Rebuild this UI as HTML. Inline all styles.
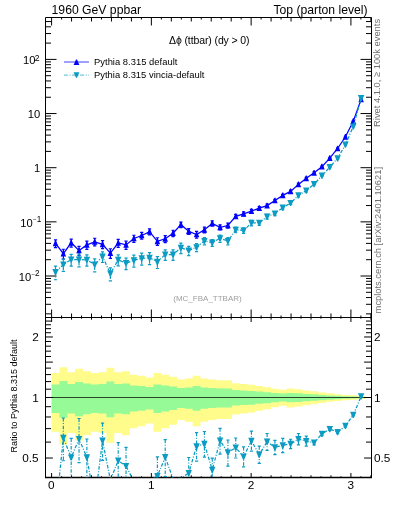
<!DOCTYPE html><html><head><meta charset="utf-8"><style>html,body{margin:0;padding:0;background:#fff;overflow:hidden;}svg{display:block;will-change:transform;}text{font-family:"Liberation Sans",sans-serif;}</style></head><body>
<svg width="393" height="512" viewBox="0 0 393 512">
<defs><clipPath id="cu"><rect x="45.5" y="17.5" width="326" height="300"/></clipPath><clipPath id="cr"><rect x="45.5" y="317.5" width="326" height="160"/></clipPath></defs>
<g clip-path="url(#cr)">
<polygon points="51.60,373.01 59.44,373.01 59.44,367.13 67.27,367.13 67.27,372.31 75.11,372.31 75.11,368.84 82.94,368.84 82.94,371.26 90.78,371.26 90.78,373.01 98.62,373.01 98.62,372.31 106.45,372.31 106.45,367.81 114.29,367.81 114.29,372.31 122.12,372.31 122.12,371.26 129.96,371.26 129.96,374.77 137.80,374.77 137.80,375.84 145.63,375.84 145.63,377.45 153.47,377.45 153.47,373.01 161.30,373.01 161.30,374.77 169.14,374.77 169.14,376.73 176.97,376.73 176.97,379.61 184.81,379.61 184.81,378.53 192.65,378.53 192.65,375.84 200.48,375.84 200.48,378.53 208.32,378.53 208.32,379.61 216.15,379.61 216.15,380.34 223.99,380.34 223.99,380.34 231.83,380.34 231.83,383.28 239.66,383.28 239.66,384.02 247.50,384.02 247.50,384.76 255.33,384.76 255.33,386.07 263.17,386.07 263.17,387.20 271.01,387.20 271.01,388.72 278.84,388.72 278.84,389.87 286.68,389.87 286.68,388.53 294.51,388.53 294.51,389.29 302.35,389.29 302.35,390.44 310.19,390.44 310.19,391.21 318.02,391.21 318.02,392.38 325.86,392.38 325.86,393.35 333.69,393.35 333.69,394.13 341.53,394.13 341.53,394.92 349.36,394.92 349.36,395.31 357.20,395.31 357.20,396.11 365.04,396.11 365.04,398.92 357.20,398.92 357.20,399.74 349.36,399.74 349.36,400.16 341.53,400.16 341.53,401.00 333.69,401.00 333.69,401.86 325.86,401.86 325.86,402.94 318.02,402.94 318.02,404.27 310.19,404.27 310.19,405.18 302.35,405.18 302.35,406.56 294.51,406.56 294.51,407.50 286.68,407.50 286.68,405.87 278.84,405.87 278.84,407.26 271.01,407.26 271.01,409.18 263.17,409.18 263.17,410.65 255.33,410.65 255.33,412.42 247.50,412.42 247.50,413.45 239.66,413.45 239.66,414.50 231.83,414.50 231.83,418.88 223.99,418.88 223.99,418.88 216.15,418.88 216.15,420.02 208.32,420.02 208.32,421.77 200.48,421.77 200.48,426.37 192.65,426.37 192.65,421.77 184.81,421.77 184.81,420.02 176.97,420.02 176.97,424.80 169.14,424.80 169.14,428.31 161.30,428.31 161.30,431.66 153.47,431.66 153.47,423.57 145.63,423.57 145.63,426.37 137.80,426.37 137.80,428.31 129.96,428.31 129.96,435.18 122.12,435.18 122.12,433.05 114.29,433.05 114.29,442.83 106.45,442.83 106.45,433.05 98.62,433.05 98.62,431.66 90.78,431.66 90.78,435.18 82.94,435.18 82.94,440.45 75.11,440.45 75.11,433.05 67.27,433.05 67.27,444.47 59.44,444.47 59.44,431.66 51.60,431.66" fill="#fffc8c" stroke="none"/>
<polygon points="51.60,384.40 59.44,384.40 59.44,381.00 67.27,381.00 67.27,384.00 75.11,384.00 75.11,382.00 82.94,382.00 82.94,383.40 90.78,383.40 90.78,384.40 98.62,384.40 98.62,384.00 106.45,384.00 106.45,381.40 114.29,381.40 114.29,384.00 122.12,384.00 122.12,383.40 129.96,383.40 129.96,385.40 137.80,385.40 137.80,386.00 145.63,386.00 145.63,386.90 153.47,386.90 153.47,384.40 161.30,384.40 161.30,385.40 169.14,385.40 169.14,386.50 176.97,386.50 176.97,388.10 184.81,388.10 184.81,387.50 192.65,387.50 192.65,386.00 200.48,386.00 200.48,387.50 208.32,387.50 208.32,388.10 216.15,388.10 216.15,388.50 223.99,388.50 223.99,388.50 231.83,388.50 231.83,390.10 239.66,390.10 239.66,390.50 247.50,390.50 247.50,390.90 255.33,390.90 255.33,391.60 263.17,391.60 263.17,392.20 271.01,392.20 271.01,393.00 278.84,393.00 278.84,393.60 286.68,393.60 286.68,392.90 294.51,392.90 294.51,393.30 302.35,393.30 302.35,393.90 310.19,393.90 310.19,394.30 318.02,394.30 318.02,394.90 325.86,394.90 325.86,395.40 333.69,395.40 333.69,395.80 341.53,395.80 341.53,396.20 349.36,396.20 349.36,396.40 357.20,396.40 357.20,396.80 365.04,396.80 365.04,398.21 357.20,398.21 357.20,398.61 349.36,398.61 349.36,398.82 341.53,398.82 341.53,399.23 333.69,399.23 333.69,399.65 325.86,399.65 325.86,400.18 318.02,400.18 318.02,400.82 310.19,400.82 310.19,401.25 302.35,401.25 302.35,401.91 294.51,401.91 294.51,402.36 286.68,402.36 286.68,401.58 278.84,401.58 278.84,402.24 271.01,402.24 271.01,403.14 263.17,403.14 263.17,403.83 255.33,403.83 255.33,404.64 247.50,404.64 247.50,405.11 239.66,405.11 239.66,405.59 231.83,405.59 231.83,407.54 223.99,407.54 223.99,407.54 216.15,407.54 216.15,408.04 208.32,408.04 208.32,408.80 200.48,408.80 200.48,410.75 192.65,410.75 192.65,408.80 184.81,408.80 184.81,408.04 176.97,408.04 176.97,410.09 169.14,410.09 169.14,411.55 161.30,411.55 161.30,412.92 153.47,412.92 153.47,409.57 145.63,409.57 145.63,410.75 137.80,410.75 137.80,411.55 129.96,411.55 129.96,414.32 122.12,414.32 122.12,413.48 114.29,413.48 114.29,417.26 106.45,417.26 106.45,413.48 98.62,413.48 98.62,412.92 90.78,412.92 90.78,414.32 82.94,414.32 82.94,416.36 75.11,416.36 75.11,413.48 67.27,413.48 67.27,417.86 59.44,417.86 59.44,412.92 51.60,412.92" fill="#96fa96" stroke="none"/>
</g>
<g fill="none" stroke="#000" stroke-width="1">
<path d="M45.5 17.5H371.5V477.5H45.5Z M45.5 317.5H371.5"/>
</g>
<path d="M45.0 477.5H372.0" stroke="#000" stroke-width="1.5"/>
<path d="M51.60 317.50L51.60 309.50M51.60 17.50L51.60 25.50M51.60 317.50L51.60 322.00M51.60 477.50L51.60 473.00M61.58 317.50L61.58 315.50M61.58 17.50L61.58 19.50M61.58 317.50L61.58 318.70M61.58 477.50L61.58 476.30M71.55 317.50L71.55 313.50M71.55 17.50L71.55 21.50M71.55 317.50L71.55 319.70M71.55 477.50L71.55 475.30M81.53 317.50L81.53 315.50M81.53 17.50L81.53 19.50M81.53 317.50L81.53 318.70M81.53 477.50L81.53 476.30M91.51 317.50L91.51 313.50M91.51 17.50L91.51 21.50M91.51 317.50L91.51 319.70M91.51 477.50L91.51 475.30M101.48 317.50L101.48 315.50M101.48 17.50L101.48 19.50M101.48 317.50L101.48 318.70M101.48 477.50L101.48 476.30M111.46 317.50L111.46 313.50M111.46 17.50L111.46 21.50M111.46 317.50L111.46 319.70M111.46 477.50L111.46 475.30M121.44 317.50L121.44 315.50M121.44 17.50L121.44 19.50M121.44 317.50L121.44 318.70M121.44 477.50L121.44 476.30M131.42 317.50L131.42 313.50M131.42 17.50L131.42 21.50M131.42 317.50L131.42 319.70M131.42 477.50L131.42 475.30M141.39 317.50L141.39 315.50M141.39 17.50L141.39 19.50M141.39 317.50L141.39 318.70M141.39 477.50L141.39 476.30M151.37 317.50L151.37 309.50M151.37 17.50L151.37 25.50M151.37 317.50L151.37 322.00M151.37 477.50L151.37 473.00M161.35 317.50L161.35 315.50M161.35 17.50L161.35 19.50M161.35 317.50L161.35 318.70M161.35 477.50L161.35 476.30M171.32 317.50L171.32 313.50M171.32 17.50L171.32 21.50M171.32 317.50L171.32 319.70M171.32 477.50L171.32 475.30M181.30 317.50L181.30 315.50M181.30 17.50L181.30 19.50M181.30 317.50L181.30 318.70M181.30 477.50L181.30 476.30M191.28 317.50L191.28 313.50M191.28 17.50L191.28 21.50M191.28 317.50L191.28 319.70M191.28 477.50L191.28 475.30M201.25 317.50L201.25 315.50M201.25 17.50L201.25 19.50M201.25 317.50L201.25 318.70M201.25 477.50L201.25 476.30M211.23 317.50L211.23 313.50M211.23 17.50L211.23 21.50M211.23 317.50L211.23 319.70M211.23 477.50L211.23 475.30M221.21 317.50L221.21 315.50M221.21 17.50L221.21 19.50M221.21 317.50L221.21 318.70M221.21 477.50L221.21 476.30M231.19 317.50L231.19 313.50M231.19 17.50L231.19 21.50M231.19 317.50L231.19 319.70M231.19 477.50L231.19 475.30M241.16 317.50L241.16 315.50M241.16 17.50L241.16 19.50M241.16 317.50L241.16 318.70M241.16 477.50L241.16 476.30M251.14 317.50L251.14 309.50M251.14 17.50L251.14 25.50M251.14 317.50L251.14 322.00M251.14 477.50L251.14 473.00M261.12 317.50L261.12 315.50M261.12 17.50L261.12 19.50M261.12 317.50L261.12 318.70M261.12 477.50L261.12 476.30M271.09 317.50L271.09 313.50M271.09 17.50L271.09 21.50M271.09 317.50L271.09 319.70M271.09 477.50L271.09 475.30M281.07 317.50L281.07 315.50M281.07 17.50L281.07 19.50M281.07 317.50L281.07 318.70M281.07 477.50L281.07 476.30M291.05 317.50L291.05 313.50M291.05 17.50L291.05 21.50M291.05 317.50L291.05 319.70M291.05 477.50L291.05 475.30M301.02 317.50L301.02 315.50M301.02 17.50L301.02 19.50M301.02 317.50L301.02 318.70M301.02 477.50L301.02 476.30M311.00 317.50L311.00 313.50M311.00 17.50L311.00 21.50M311.00 317.50L311.00 319.70M311.00 477.50L311.00 475.30M320.98 317.50L320.98 315.50M320.98 17.50L320.98 19.50M320.98 317.50L320.98 318.70M320.98 477.50L320.98 476.30M330.96 317.50L330.96 313.50M330.96 17.50L330.96 21.50M330.96 317.50L330.96 319.70M330.96 477.50L330.96 475.30M340.93 317.50L340.93 315.50M340.93 17.50L340.93 19.50M340.93 317.50L340.93 318.70M340.93 477.50L340.93 476.30M350.91 317.50L350.91 309.50M350.91 17.50L350.91 25.50M350.91 317.50L350.91 322.00M350.91 477.50L350.91 473.00M360.89 317.50L360.89 315.50M360.89 17.50L360.89 19.50M360.89 317.50L360.89 318.70M360.89 477.50L360.89 476.30M370.86 317.50L370.86 313.50M370.86 17.50L370.86 21.50M370.86 317.50L370.86 319.70M370.86 477.50L370.86 475.30M45.50 313.85L51.00 313.85M371.50 313.85L366.00 313.85M45.50 304.31L51.00 304.31M371.50 304.31L366.00 304.31M45.50 297.55L51.00 297.55M371.50 297.55L366.00 297.55M45.50 292.30L51.00 292.30M371.50 292.30L366.00 292.30M45.50 288.01L51.00 288.01M371.50 288.01L366.00 288.01M45.50 284.39L51.00 284.39M371.50 284.39L366.00 284.39M45.50 281.25L51.00 281.25M371.50 281.25L366.00 281.25M45.50 278.48L51.00 278.48M371.50 278.48L366.00 278.48M45.50 276.00L56.50 276.00M371.50 276.00L360.50 276.00M45.50 259.70L51.00 259.70M371.50 259.70L366.00 259.70M45.50 250.16L51.00 250.16M371.50 250.16L366.00 250.16M45.50 243.40L51.00 243.40M371.50 243.40L366.00 243.40M45.50 238.15L51.00 238.15M371.50 238.15L366.00 238.15M45.50 233.86L51.00 233.86M371.50 233.86L366.00 233.86M45.50 230.24L51.00 230.24M371.50 230.24L366.00 230.24M45.50 227.10L51.00 227.10M371.50 227.10L366.00 227.10M45.50 224.33L51.00 224.33M371.50 224.33L366.00 224.33M45.50 221.85L56.50 221.85M371.50 221.85L360.50 221.85M45.50 205.55L51.00 205.55M371.50 205.55L366.00 205.55M45.50 196.01L51.00 196.01M371.50 196.01L366.00 196.01M45.50 189.25L51.00 189.25M371.50 189.25L366.00 189.25M45.50 184.00L51.00 184.00M371.50 184.00L366.00 184.00M45.50 179.71L51.00 179.71M371.50 179.71L366.00 179.71M45.50 176.09L51.00 176.09M371.50 176.09L366.00 176.09M45.50 172.95L51.00 172.95M371.50 172.95L366.00 172.95M45.50 170.18L51.00 170.18M371.50 170.18L366.00 170.18M45.50 167.70L56.50 167.70M371.50 167.70L360.50 167.70M45.50 151.40L51.00 151.40M371.50 151.40L366.00 151.40M45.50 141.86L51.00 141.86M371.50 141.86L366.00 141.86M45.50 135.10L51.00 135.10M371.50 135.10L366.00 135.10M45.50 129.85L51.00 129.85M371.50 129.85L366.00 129.85M45.50 125.56L51.00 125.56M371.50 125.56L366.00 125.56M45.50 121.94L51.00 121.94M371.50 121.94L366.00 121.94M45.50 118.80L51.00 118.80M371.50 118.80L366.00 118.80M45.50 116.03L51.00 116.03M371.50 116.03L366.00 116.03M45.50 113.55L56.50 113.55M371.50 113.55L360.50 113.55M45.50 97.25L51.00 97.25M371.50 97.25L366.00 97.25M45.50 87.71L51.00 87.71M371.50 87.71L366.00 87.71M45.50 80.95L51.00 80.95M371.50 80.95L366.00 80.95M45.50 75.70L51.00 75.70M371.50 75.70L366.00 75.70M45.50 71.41L51.00 71.41M371.50 71.41L366.00 71.41M45.50 67.79L51.00 67.79M371.50 67.79L366.00 67.79M45.50 64.65L51.00 64.65M371.50 64.65L366.00 64.65M45.50 61.88L51.00 61.88M371.50 61.88L366.00 61.88M45.50 59.40L56.50 59.40M371.50 59.40L360.50 59.40M45.50 43.10L51.00 43.10M371.50 43.10L366.00 43.10M45.50 33.56L51.00 33.56M371.50 33.56L366.00 33.56M45.50 26.80L51.00 26.80M371.50 26.80L366.00 26.80M45.50 21.55L51.00 21.55M371.50 21.55L366.00 21.55M45.50 477.50L51.00 477.50M371.50 477.50L366.00 477.50M45.50 458.02L52.90 458.02M371.50 458.02L364.10 458.02M45.50 442.10L51.00 442.10M371.50 442.10L366.00 442.10M45.50 428.64L51.00 428.64M371.50 428.64L366.00 428.64M45.50 416.98L51.00 416.98M371.50 416.98L366.00 416.98M45.50 406.70L51.00 406.70M371.50 406.70L366.00 406.70M45.50 397.50L52.90 397.50M371.50 397.50L364.10 397.50M45.50 389.18L51.00 389.18M371.50 389.18L366.00 389.18M45.50 381.58L51.00 381.58M371.50 381.58L366.00 381.58M45.50 374.59L51.00 374.59M371.50 374.59L366.00 374.59M45.50 368.12L51.00 368.12M371.50 368.12L366.00 368.12M45.50 362.10L52.90 362.10M371.50 362.10L364.10 362.10M45.50 356.47L51.00 356.47M371.50 356.47L366.00 356.47M45.50 351.17L51.00 351.17M371.50 351.17L366.00 351.17M45.50 346.18L51.00 346.18M371.50 346.18L366.00 346.18M45.50 341.46L51.00 341.46M371.50 341.46L366.00 341.46M45.50 336.98L52.90 336.98M371.50 336.98L364.10 336.98M45.50 332.72L51.00 332.72M371.50 332.72L366.00 332.72M45.50 328.66L51.00 328.66M371.50 328.66L366.00 328.66M45.50 324.78L51.00 324.78M371.50 324.78L366.00 324.78M45.50 321.07L51.00 321.07M371.50 321.07L366.00 321.07M45.50 317.50L52.90 317.50M371.50 317.50L364.10 317.50" stroke="#000" stroke-width="1" fill="none"/>
<line x1="45.5" y1="397.5" x2="371.5" y2="397.5" stroke="#000" stroke-opacity="0.72" stroke-width="1"/>
<g clip-path="url(#cu)">
<polyline points="55.52,243.40 63.35,253.70 71.19,242.80 79.03,250.50 86.86,244.90 94.70,241.80 102.53,244.30 110.37,253.10 118.21,243.00 126.04,244.90 133.88,238.50 141.71,235.50 149.55,231.70 157.38,241.30 165.22,238.80 173.06,233.20 180.89,224.70 188.73,231.30 196.56,234.50 204.40,229.80 212.24,223.40 220.07,227.30 227.91,225.50 235.74,216.30 243.58,213.80 251.42,211.20 259.25,208.20 267.09,205.60 274.92,200.50 282.76,195.40 290.60,191.40 298.43,184.40 306.27,178.30 314.10,172.80 321.94,166.70 329.78,158.20 337.61,148.50 345.45,136.80 353.28,121.20 361.12,99.50" fill="none" stroke="#0000ff" stroke-width="1.25"/>
<path d="M55.52 239.87V247.55M53.92 239.87H57.12M53.92 247.55H57.12M63.35 249.26V259.18M61.75 249.26H64.95M61.75 259.18H64.95M71.19 239.16V247.10M69.59 239.16H72.79M69.59 247.10H72.79M79.03 246.32V255.58M77.43 246.32H80.63M77.43 255.58H80.63M86.86 241.10V249.43M85.26 241.10H88.46M85.26 249.43H88.46M94.70 238.27V245.95M93.10 238.27H96.30M93.10 245.95H96.30M102.53 240.66V248.60M100.93 240.66H104.13M100.93 248.60H104.13M110.37 248.76V258.42M108.77 248.76H111.97M108.77 258.42H111.97M118.21 239.36V247.30M116.61 239.36H119.81M116.61 247.30H119.81M126.04 241.10V249.43M124.44 241.10H127.64M124.44 249.43H127.64M133.88 235.24V242.28M132.28 235.24H135.48M132.28 242.28H135.48M141.71 232.40V239.07M140.11 232.40H143.31M140.11 239.07H143.31M149.55 228.84V234.95M147.95 228.84H151.15M147.95 234.95H151.15M157.38 237.77V245.45M155.78 237.77H158.98M155.78 245.45H158.98M165.22 235.54V242.58M163.62 235.54H166.82M163.62 242.58H166.82M173.06 230.24V236.59M171.46 230.24H174.66M171.46 236.59H174.66M180.89 222.17V227.54M179.29 222.17H182.49M179.29 227.54H182.49M188.73 228.61V234.34M187.13 228.61H190.33M187.13 234.34H190.33M196.56 231.40V238.07M194.96 231.40H198.16M194.96 238.07H198.16M204.40 227.11V232.84M202.80 227.11H206.00M202.80 232.84H206.00M212.24 220.87V226.24M210.64 220.87H213.84M210.64 226.24H213.84M220.07 224.88V230.00M218.47 224.88H221.67M218.47 230.00H221.67M227.91 223.08V228.20M226.31 223.08H229.51M226.31 228.20H229.51M235.74 214.31V218.48M234.14 214.31H237.34M234.14 218.48H237.34M243.58 211.91V215.85M241.98 211.91H245.18M241.98 215.85H245.18M251.42 209.42V213.12M249.82 209.42H253.02M249.82 213.12H253.02M259.25 206.61V209.90M257.65 206.61H260.85M257.65 209.90H260.85M267.09 204.17V207.12M265.49 204.17H268.69M265.49 207.12H268.69M274.92 199.29V201.78M273.32 199.29H276.52M273.32 201.78H276.52M282.76 194.35V196.50M281.16 194.35H284.36M281.16 196.50H284.36M290.60 190.16V192.71M289.00 190.16H292.20M289.00 192.71H292.20M298.43 183.27V185.59M296.83 183.27H300.03M296.83 185.59H300.03M306.27 177.33V179.31M304.67 177.33H307.87M304.67 179.31H307.87M314.10 171.94V173.69M312.50 171.94H315.70M312.50 173.69H315.70M321.94 166.00V167.42M320.34 166.00H323.54M320.34 167.42H323.54M329.78 157.63V158.78M328.18 157.63H331.38M328.18 158.78H331.38M337.61 148.04V148.97M336.01 148.04H339.21M336.01 148.97H339.21M345.45 136.45V137.16M343.85 136.45H347.05M343.85 137.16H347.05M353.28 120.90V121.50M351.68 120.90H354.88M351.68 121.50H354.88M361.12 99.31V99.69M359.52 99.31H362.72M359.52 99.69H362.72" stroke="#0000ff" stroke-width="1.2" fill="none"/>
<path d="M55.02 240.55L56.02 240.55L58.27 246.25L52.77 246.25ZM62.85 250.85L63.85 250.85L66.10 256.55L60.60 256.55ZM70.69 239.95L71.69 239.95L73.94 245.65L68.44 245.65ZM78.53 247.65L79.53 247.65L81.78 253.35L76.28 253.35ZM86.36 242.05L87.36 242.05L89.61 247.75L84.11 247.75ZM94.20 238.95L95.20 238.95L97.45 244.65L91.95 244.65ZM102.03 241.45L103.03 241.45L105.28 247.15L99.78 247.15ZM109.87 250.25L110.87 250.25L113.12 255.95L107.62 255.95ZM117.71 240.15L118.71 240.15L120.96 245.85L115.46 245.85ZM125.54 242.05L126.54 242.05L128.79 247.75L123.29 247.75ZM133.38 235.65L134.38 235.65L136.63 241.35L131.13 241.35ZM141.21 232.65L142.21 232.65L144.46 238.35L138.96 238.35ZM149.05 228.85L150.05 228.85L152.30 234.55L146.80 234.55ZM156.88 238.45L157.88 238.45L160.13 244.15L154.63 244.15ZM164.72 235.95L165.72 235.95L167.97 241.65L162.47 241.65ZM172.56 230.35L173.56 230.35L175.81 236.05L170.31 236.05ZM180.39 221.85L181.39 221.85L183.64 227.55L178.14 227.55ZM188.23 228.45L189.23 228.45L191.48 234.15L185.98 234.15ZM196.06 231.65L197.06 231.65L199.31 237.35L193.81 237.35ZM203.90 226.95L204.90 226.95L207.15 232.65L201.65 232.65ZM211.74 220.55L212.74 220.55L214.99 226.25L209.49 226.25ZM219.57 224.45L220.57 224.45L222.82 230.15L217.32 230.15ZM227.41 222.65L228.41 222.65L230.66 228.35L225.16 228.35ZM235.24 213.45L236.24 213.45L238.49 219.15L232.99 219.15ZM243.08 210.95L244.08 210.95L246.33 216.65L240.83 216.65ZM250.92 208.35L251.92 208.35L254.17 214.05L248.67 214.05ZM258.75 205.35L259.75 205.35L262.00 211.05L256.50 211.05ZM266.59 202.75L267.59 202.75L269.84 208.45L264.34 208.45ZM274.42 197.65L275.42 197.65L277.67 203.35L272.17 203.35ZM282.26 192.55L283.26 192.55L285.51 198.25L280.01 198.25ZM290.10 188.55L291.10 188.55L293.35 194.25L287.85 194.25ZM297.93 181.55L298.93 181.55L301.18 187.25L295.68 187.25ZM305.77 175.45L306.77 175.45L309.02 181.15L303.52 181.15ZM313.60 169.95L314.60 169.95L316.85 175.65L311.35 175.65ZM321.44 163.85L322.44 163.85L324.69 169.55L319.19 169.55ZM329.28 155.35L330.28 155.35L332.53 161.05L327.03 161.05ZM337.11 145.65L338.11 145.65L340.36 151.35L334.86 151.35ZM344.95 133.95L345.95 133.95L348.20 139.65L342.70 139.65ZM352.78 118.35L353.78 118.35L356.03 124.05L350.53 124.05ZM360.62 96.65L361.62 96.65L363.87 102.35L358.37 102.35Z" fill="#0000ff"/>
<polyline points="55.52,272.00 63.35,264.50 71.19,259.50 79.03,259.70 86.86,259.80 94.70,264.50 102.53,256.60 110.37,273.50 118.21,259.80 126.04,263.20 133.88,260.30 141.71,258.40 149.55,257.80 157.38,261.80 165.22,254.60 173.06,254.60 180.89,247.80 188.73,250.50 196.56,247.30 204.40,241.00 212.24,242.70 220.07,238.40 227.91,241.00 235.74,229.80 243.58,230.50 251.42,222.90 259.25,222.90 267.09,216.60 274.92,213.50 282.76,207.70 290.60,203.00 298.43,195.40 306.27,190.60 314.10,184.10 321.94,175.70 329.78,167.10 337.61,158.30 345.45,144.70 353.28,126.50 361.12,98.20" fill="none" stroke="#0c9bc2" stroke-width="1.25" stroke-dasharray="3.5,1.6,1,1.6"/>
<path d="M55.52 266.19V279.73M53.92 266.19H57.12M53.92 279.73H57.12M63.35 259.14V271.45M61.75 259.14H64.95M61.75 271.45H64.95M71.19 254.36V266.10M69.59 254.36H72.79M69.59 266.10H72.79M79.03 254.18V266.93M77.43 254.18H80.63M77.43 266.93H80.63M86.86 254.87V266.04M85.26 254.87H88.46M85.26 266.04H88.46M94.70 258.88V271.90M93.10 258.88H96.30M93.10 271.90H96.30M102.53 251.89V262.50M100.93 251.89H104.13M100.93 262.50H104.13M110.37 267.88V280.90M108.77 267.88H111.97M108.77 280.90H111.97M118.21 254.92V265.96M116.61 254.92H119.81M116.61 265.96H119.81M126.04 258.19V269.57M124.44 258.19H127.64M124.44 269.57H127.64M133.88 255.05V267.07M132.28 255.05H135.48M132.28 267.07H135.48M141.71 253.15V265.17M140.11 253.15H143.31M140.11 265.17H143.31M149.55 252.55V264.57M147.95 252.55H151.15M147.95 264.57H151.15M157.38 256.60V268.48M155.78 256.60H158.98M155.78 268.48H158.98M165.22 249.91V260.46M163.62 249.91H166.82M163.62 260.46H166.82M173.06 249.92V260.44M171.46 249.92H174.66M171.46 260.44H174.66M180.89 243.12V253.64M179.29 243.12H182.49M179.29 253.64H182.49M188.73 246.32V255.58M187.13 246.32H190.33M187.13 255.58H190.33M196.56 243.64V251.64M194.96 243.64H198.16M194.96 251.64H198.16M204.40 237.69V244.86M202.80 237.69H206.00M202.80 244.86H206.00M212.24 239.58V246.30M210.64 239.58H213.84M210.64 246.30H213.84M220.07 235.06V242.29M218.47 235.06H221.67M218.47 242.29H221.67M227.91 237.63V244.93M226.31 237.63H229.51M226.31 244.93H229.51M235.74 227.19V232.74M234.14 227.19H237.34M234.14 232.74H237.34M243.58 227.89V233.44M241.98 227.89H245.18M241.98 233.44H245.18M251.42 220.29V225.84M249.82 220.29H253.02M249.82 225.84H253.02M259.25 220.64V225.40M257.65 220.64H260.85M257.65 225.40H260.85M267.09 214.39V219.04M265.49 214.39H268.69M265.49 219.04H268.69M274.92 211.61V215.55M273.32 211.61H276.52M273.32 215.55H276.52M282.76 205.81V209.75M281.16 205.81H284.36M281.16 209.75H284.36M290.60 201.74V204.33M289.00 201.74H292.20M289.00 204.33H292.20M298.43 193.89V197.01M296.83 193.89H300.03M296.83 197.01H300.03M306.27 189.28V192.00M304.67 189.28H307.87M304.67 192.00H307.87M314.10 183.52V184.70M312.50 183.52H315.70M312.50 184.70H315.70M321.94 175.23V176.18M320.34 175.23H323.54M320.34 176.18H323.54M329.78 166.75V167.46M328.18 166.75H331.38M328.18 167.46H331.38M337.61 157.95V158.66M336.01 157.95H339.21M336.01 158.66H339.21M345.45 144.42V144.98M343.85 144.42H347.05M343.85 144.98H347.05M353.28 126.27V126.74M351.68 126.27H354.88M351.68 126.74H354.88M361.12 98.01V98.39M359.52 98.01H362.72M359.52 98.39H362.72" stroke="#0c9bc2" stroke-width="1.2" fill="none" stroke-dasharray="3.5,1.6,1,1.6"/>
<path d="M54.97 275.10L56.07 275.10L58.72 268.90L52.32 268.90ZM62.80 267.60L63.90 267.60L66.55 261.40L60.15 261.40ZM70.64 262.60L71.74 262.60L74.39 256.40L67.99 256.40ZM78.48 262.80L79.58 262.80L82.23 256.60L75.83 256.60ZM86.31 262.90L87.41 262.90L90.06 256.70L83.66 256.70ZM94.15 267.60L95.25 267.60L97.90 261.40L91.50 261.40ZM101.98 259.70L103.08 259.70L105.73 253.50L99.33 253.50ZM109.82 276.60L110.92 276.60L113.57 270.40L107.17 270.40ZM117.66 262.90L118.76 262.90L121.41 256.70L115.01 256.70ZM125.49 266.30L126.59 266.30L129.24 260.10L122.84 260.10ZM133.33 263.40L134.43 263.40L137.08 257.20L130.68 257.20ZM141.16 261.50L142.26 261.50L144.91 255.30L138.51 255.30ZM149.00 260.90L150.10 260.90L152.75 254.70L146.35 254.70ZM156.83 264.90L157.93 264.90L160.58 258.70L154.18 258.70ZM164.67 257.70L165.77 257.70L168.42 251.50L162.02 251.50ZM172.51 257.70L173.61 257.70L176.26 251.50L169.86 251.50ZM180.34 250.90L181.44 250.90L184.09 244.70L177.69 244.70ZM188.18 253.60L189.28 253.60L191.93 247.40L185.53 247.40ZM196.01 250.40L197.11 250.40L199.76 244.20L193.36 244.20ZM203.85 244.10L204.95 244.10L207.60 237.90L201.20 237.90ZM211.69 245.80L212.79 245.80L215.44 239.60L209.04 239.60ZM219.52 241.50L220.62 241.50L223.27 235.30L216.87 235.30ZM227.36 244.10L228.46 244.10L231.11 237.90L224.71 237.90ZM235.19 232.90L236.29 232.90L238.94 226.70L232.54 226.70ZM243.03 233.60L244.13 233.60L246.78 227.40L240.38 227.40ZM250.87 226.00L251.97 226.00L254.62 219.80L248.22 219.80ZM258.70 226.00L259.80 226.00L262.45 219.80L256.05 219.80ZM266.54 219.70L267.64 219.70L270.29 213.50L263.89 213.50ZM274.37 216.60L275.47 216.60L278.12 210.40L271.72 210.40ZM282.21 210.80L283.31 210.80L285.96 204.60L279.56 204.60ZM290.05 206.10L291.15 206.10L293.80 199.90L287.40 199.90ZM297.88 198.50L298.98 198.50L301.63 192.30L295.23 192.30ZM305.72 193.70L306.82 193.70L309.47 187.50L303.07 187.50ZM313.55 187.20L314.65 187.20L317.30 181.00L310.90 181.00ZM321.39 178.80L322.49 178.80L325.14 172.60L318.74 172.60ZM329.23 170.20L330.33 170.20L332.98 164.00L326.58 164.00ZM337.06 161.40L338.16 161.40L340.81 155.20L334.41 155.20ZM344.90 147.80L346.00 147.80L348.65 141.60L342.25 141.60ZM352.73 129.60L353.83 129.60L356.48 123.40L350.08 123.40ZM360.57 101.30L361.67 101.30L364.32 95.10L357.92 95.10Z" fill="#0c9bc2"/>
</g>
<g clip-path="url(#cr)">
<polyline points="55.52,514.00 63.35,437.90 71.19,457.50 79.03,439.00 86.86,457.30 94.70,502.00 102.53,440.70 110.37,480.00 118.21,460.70 126.04,466.00 133.88,481.40 141.71,485.00 149.55,480.00 157.38,476.20 165.22,457.10 173.06,478.90 180.89,478.20 188.73,473.00 196.56,446.30 204.40,443.80 212.24,469.80 220.07,440.70 227.91,452.50 235.74,447.70 243.58,456.60 251.42,440.90 259.25,454.60 267.09,441.70 274.92,447.30 282.76,445.30 290.60,443.90 298.43,439.10 306.27,441.10 314.10,442.70 321.94,433.80 329.78,429.10 337.61,432.20 345.45,425.90 353.28,414.90 361.12,396.40" fill="none" stroke="#0c9bc2" stroke-width="1.25" stroke-dasharray="3.5,1.6,1,1.6"/>
<path d="M63.35 418.00V460.76M61.75 418.00H64.95M61.75 460.76H64.95M71.19 438.40V479.29M69.59 438.40H72.79M69.59 479.29H72.79M79.03 418.50V462.67M77.43 418.50H80.63M77.43 462.67H80.63M86.86 439.00V478.04M85.26 439.00H88.46M85.26 478.04H88.46M102.53 423.20V460.41M100.93 423.20H104.13M100.93 460.41H104.13M118.21 442.60V481.18M116.61 442.60H119.81M116.61 481.18H119.81M126.04 447.40V487.13M124.44 447.40H127.64M124.44 487.13H127.64M157.38 456.90V498.26M155.78 456.90H158.98M155.78 498.26H158.98M165.22 439.70V476.68M163.62 439.70H166.82M163.62 476.68H166.82M188.73 457.50V490.18M187.13 457.50H190.33M187.13 490.18H190.33M196.56 432.70V461.16M194.96 432.70H198.16M194.96 461.16H198.16M204.40 431.50V457.11M202.80 431.50H206.00M202.80 457.11H206.00M212.24 458.20V482.29M210.64 458.20H213.84M210.64 482.29H213.84M220.07 428.30V454.13M218.47 428.30H221.67M218.47 454.13H221.67M227.91 440.00V466.05M226.31 440.00H229.51M226.31 466.05H229.51M235.74 438.00V458.01M234.14 438.00H237.34M234.14 458.01H237.34M243.58 446.90V466.91M241.98 446.90H245.18M241.98 466.91H245.18M251.42 431.20V451.21M249.82 431.20H253.02M249.82 451.21H253.02M259.25 446.20V463.45M257.65 446.20H260.85M257.65 463.45H260.85M267.09 433.50V450.33M265.49 433.50H268.69M265.49 450.33H268.69M274.92 440.30V454.61M273.32 440.30H276.52M273.32 454.61H276.52M282.76 438.30V452.61M281.16 438.30H284.36M281.16 452.61H284.36M290.60 439.23V448.71M289.00 439.23H292.20M289.00 448.71H292.20M298.43 433.50V444.89M296.83 433.50H300.03M296.83 444.89H300.03M306.27 436.20V446.15M304.67 436.20H307.87M304.67 446.15H307.87M314.10 440.54V444.88M312.50 440.54H315.70M312.50 444.88H315.70M321.94 432.07V435.55M320.34 432.07H323.54M320.34 435.55H323.54M329.78 427.80V430.41M328.18 427.80H331.38M328.18 430.41H331.38M337.61 430.90V433.51M336.01 430.90H339.21M336.01 433.51H339.21M345.45 424.86V426.95M343.85 424.86H347.05M343.85 426.95H347.05M353.28 414.03V415.77M351.68 414.03H354.88M351.68 415.77H354.88M361.12 395.70V397.10M359.52 395.70H362.72M359.52 397.10H362.72" stroke="#0c9bc2" stroke-width="1.2" fill="none" stroke-dasharray="3.5,1.6,1,1.6"/>
<path d="M62.80 441.00L63.90 441.00L66.55 434.80L60.15 434.80ZM70.64 460.60L71.74 460.60L74.39 454.40L67.99 454.40ZM78.48 442.10L79.58 442.10L82.23 435.90L75.83 435.90ZM86.31 460.40L87.41 460.40L90.06 454.20L83.66 454.20ZM101.98 443.80L103.08 443.80L105.73 437.60L99.33 437.60ZM117.66 463.80L118.76 463.80L121.41 457.60L115.01 457.60ZM125.49 469.10L126.59 469.10L129.24 462.90L122.84 462.90ZM156.83 479.30L157.93 479.30L160.58 473.10L154.18 473.10ZM164.67 460.20L165.77 460.20L168.42 454.00L162.02 454.00ZM188.18 476.10L189.28 476.10L191.93 469.90L185.53 469.90ZM196.01 449.40L197.11 449.40L199.76 443.20L193.36 443.20ZM203.85 446.90L204.95 446.90L207.60 440.70L201.20 440.70ZM211.69 472.90L212.79 472.90L215.44 466.70L209.04 466.70ZM219.52 443.80L220.62 443.80L223.27 437.60L216.87 437.60ZM227.36 455.60L228.46 455.60L231.11 449.40L224.71 449.40ZM235.19 450.80L236.29 450.80L238.94 444.60L232.54 444.60ZM243.03 459.70L244.13 459.70L246.78 453.50L240.38 453.50ZM250.87 444.00L251.97 444.00L254.62 437.80L248.22 437.80ZM258.70 457.70L259.80 457.70L262.45 451.50L256.05 451.50ZM266.54 444.80L267.64 444.80L270.29 438.60L263.89 438.60ZM274.37 450.40L275.47 450.40L278.12 444.20L271.72 444.20ZM282.21 448.40L283.31 448.40L285.96 442.20L279.56 442.20ZM290.05 447.00L291.15 447.00L293.80 440.80L287.40 440.80ZM297.88 442.20L298.98 442.20L301.63 436.00L295.23 436.00ZM305.72 444.20L306.82 444.20L309.47 438.00L303.07 438.00ZM313.55 445.80L314.65 445.80L317.30 439.60L310.90 439.60ZM321.39 436.90L322.49 436.90L325.14 430.70L318.74 430.70ZM329.23 432.20L330.33 432.20L332.98 426.00L326.58 426.00ZM337.06 435.30L338.16 435.30L340.81 429.10L334.41 429.10ZM344.90 429.00L346.00 429.00L348.65 422.80L342.25 422.80ZM352.73 418.00L353.83 418.00L356.48 411.80L350.08 411.80ZM360.57 399.50L361.67 399.50L364.32 393.30L357.92 393.30Z" fill="#0c9bc2"/>
</g>
<text x="51.6" y="14.4" font-size="12.2">1960 GeV ppbar</text>
<text x="367.6" y="14.4" font-size="12.2" text-anchor="end">Top (parton level)</text>
<text x="169" y="44" font-size="10.5" textLength="80.6" lengthAdjust="spacing">Δϕ (ttbar) (dy &gt; 0)</text>
<line x1="64" y1="62" x2="89" y2="62" stroke="#0000ff" stroke-width="1" stroke-opacity="0.75"/>
<path d="M76.00 59.50L77.00 59.50L79.40 64.90L73.60 64.90Z" fill="#0000ff"/>
<line x1="64" y1="75.2" x2="89" y2="75.2" stroke="#0c9bc2" stroke-width="1.2" stroke-opacity="0.6" stroke-dasharray="3.8,1.7,1,1.6"/>
<path d="M75.95 77.80L77.05 77.80L79.40 72.20L73.60 72.20Z" fill="#0c9bc2"/>
<text x="94" y="65.2" font-size="9.4" textLength="83.4" lengthAdjust="spacing">Pythia 8.315 default</text>
<text x="94" y="77.8" font-size="9.4" textLength="110.4" lengthAdjust="spacing">Pythia 8.315 vincia-default</text>
<text x="207.5" y="300.9" font-size="8" fill="#a0a0a0" text-anchor="middle">(MC_FBA_TTBAR)</text>
<text transform="translate(379.5,126.9) rotate(-90)" font-size="9.8" fill="#6e6e6e" textLength="108" lengthAdjust="spacingAndGlyphs">Rivet 4.1.0, ≥ 100k events</text>
<text transform="translate(380.6,313.4) rotate(-90)" font-size="9.8" fill="#6e6e6e" textLength="146.4" lengthAdjust="spacingAndGlyphs">mcplots.cern.ch [arXiv:2401.10621]</text>
<text transform="translate(17.3,452.5) rotate(-90)" font-size="9.8" textLength="113" lengthAdjust="spacingAndGlyphs">Ratio to Pythia 8.315 default</text>
<text x="39.6" y="63.60" font-size="11.2" text-anchor="end">10<tspan font-size="8.6" dx="-0.6" dy="-2.9">2</tspan></text>
<text x="40.3" y="117.75" font-size="11.2" text-anchor="end">10</text>
<text x="40.3" y="171.90" font-size="11.2" text-anchor="end">1</text>
<text x="41.2" y="226.95" font-size="11.2" text-anchor="end">10<tspan font-size="6" dx="0.3" dy="-5.6">−</tspan><tspan font-size="8.2" dy="0.9">1</tspan></text>
<text x="39.6" y="281.10" font-size="11.2" text-anchor="end">10<tspan font-size="6" dx="0.3" dy="-5.6">−</tspan><tspan font-size="8.2" dy="0.9">2</tspan></text>
<text x="38.7" y="341.18" font-size="11.8" text-anchor="end">2</text>
<text x="38.7" y="401.70" font-size="11.8" text-anchor="end">1</text>
<text x="38.7" y="462.22" font-size="11.8" text-anchor="end">0.5</text>
<text x="373.9" y="341.18" font-size="11.8">2</text>
<text x="373.9" y="401.70" font-size="11.8">1</text>
<text x="373.9" y="462.22" font-size="11.8">0.5</text>
<text x="51.40" y="489.1" font-size="11.8" text-anchor="middle">0</text>
<text x="151.17" y="489.1" font-size="11.8" text-anchor="middle">1</text>
<text x="250.94" y="489.1" font-size="11.8" text-anchor="middle">2</text>
<text x="350.71" y="489.1" font-size="11.8" text-anchor="middle">3</text>
</svg></body></html>
